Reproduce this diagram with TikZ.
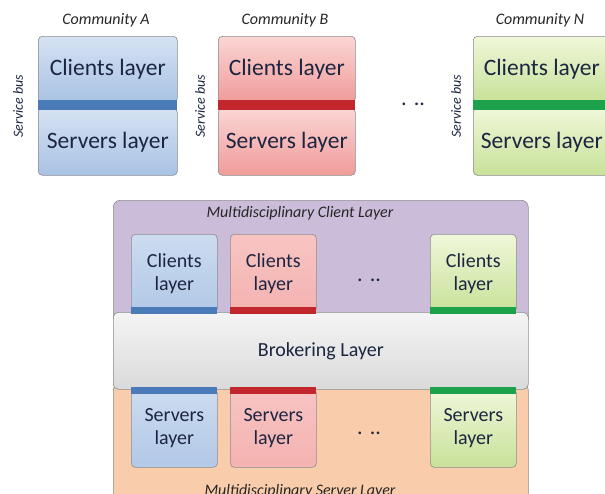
\documentclass[tikz,border=0pt]{standalone}
\usepackage{fontspec}
\setmainfont{Carlito}
\usepackage{xcolor}
\usepackage{tikz}

\definecolor{ink}{HTML}{1C2541}
\definecolor{edge}{HTML}{8C8C8C}
\definecolor{blueTop}{HTML}{D5E2F3}
\definecolor{blueBot}{HTML}{A9C2E4}
\definecolor{blueBar}{HTML}{4A7AB8}
\definecolor{redTop}{HTML}{FAD6D4}
\definecolor{redBot}{HTML}{F09B99}
\definecolor{redBar}{HTML}{C1272D}
\definecolor{greenTop}{HTML}{EFF7D9}
\definecolor{greenBot}{HTML}{C8E199}
\definecolor{greenBar}{HTML}{1DA24B}
\definecolor{purpleFill}{HTML}{CBBDD9}
\definecolor{orangeFill}{HTML}{F9CDAB}
\definecolor{greyTop}{HTML}{F4F4F4}
\definecolor{greyBot}{HTML}{DADADA}

\begin{document}
\begin{tikzpicture}[x=1pt,y=-1pt,
  layerbox/.style={draw=edge, line width=0.6pt, rounded corners=4pt, anchor=north west, inner sep=0pt, text=ink},
  bigbox/.style={layerbox, minimum height=66, font=\fontsize{23.5}{26}\selectfont},
  smallbox/.style={layerbox, minimum width=86, align=center, font=\fontsize{20}{23}\selectfont},
  groupbox/.style={draw=edge, line width=0.6pt, rounded corners=7pt, anchor=north west, inner sep=0pt, minimum width=415},
  busbar/.style={anchor=north west, inner sep=0pt, minimum height=7},
  caption/.style={text=black!85, font=\fontsize{16}{18}\selectfont\itshape},
  busnote/.style={text=ink, rotate=90, font=\fontsize{14}{16}\selectfont\itshape},
  more/.style={text=ink, font=\fontsize{22}{24}\selectfont}]
\useasboundingbox (0,0) rectangle (605,493);
\clip (0,0) rectangle (605,493);

%Community A
\node[bigbox, top color=blueTop, bottom color=blueBot, minimum width=139] (cliA) at (38,36) {Clients layer};
\node[bigbox, top color=blueTop, bottom color=blueBot, minimum width=139, minimum height=67] (srvA) at (38,108) {Servers layer};
\node[busbar, fill=blueBar, minimum width=139, minimum height=10] (busA) at (38,100) {};
%Community B
\node[bigbox, top color=redTop, bottom color=redBot, minimum width=137] (cliB) at (218,36) {Clients layer};
\node[bigbox, top color=redTop, bottom color=redBot, minimum width=137, minimum height=67] (srvB) at (218,108) {Servers layer};
\node[busbar, fill=redBar, minimum width=137, minimum height=10] (busB) at (218,100) {};
%Community N
\node[bigbox, top color=greenTop, bottom color=greenBot, minimum width=137] (cliN) at (473,36) {Clients layer};
\node[bigbox, top color=greenTop, bottom color=greenBot, minimum width=137, minimum height=67] (srvN) at (473,108) {Servers layer};
\node[busbar, fill=greenBar, minimum width=137, minimum height=10] (busN) at (473,100) {};

% Text Node
\node[caption] (titA) at (106,20) {Community A};
\node[caption] (titB) at (285,20) {Community B};
\node[caption] (titN) at (540,20) {Community N};
\node[busnote] (noteA) at (18,106) {Service bus};
\node[busnote] (noteB) at (200,106) {Service bus};
\node[busnote] (noteN) at (456,106) {Service bus};
\node[more] (dotsTop) at (413,104) {.\,\,..};

%Multidisciplinary layers
\node[groupbox, fill=purpleFill, minimum height=125] (mcl) at (113,200) {};
\node[groupbox, fill=orangeFill, minimum height=130] (msl) at (113,383) {};
\node[groupbox, top color=greyTop, bottom color=greyBot, minimum height=77, rounded corners=5pt, text=ink, font=\fontsize{20}{23}\selectfont] (brk) at (113,312) {Brokering Layer};
\node[caption] (titMcl) at (300,213) {Multidisciplinary Client Layer};
\node[caption] (titMsl) at (300,491) {Multidisciplinary Server Layer};

%Clients layers
\node[smallbox, top color=blueTop!80!blueBot, bottom color=blueBot!90, minimum height=78] (mcA) at (131,234) {Clients\\layer};
\node[smallbox, top color=redTop!70!redBot, bottom color=redBot!60!redTop, minimum height=78] (mcB) at (230,234) {Clients\\layer};
\node[smallbox, top color=greenTop, bottom color=greenBot, minimum height=78] (mcN) at (430,234) {Clients\\layer};
\node[busbar, fill=blueBar, minimum width=86] (mbA) at (131,307) {};
\node[busbar, fill=redBar, minimum width=86] (mbB) at (230,307) {};
\node[busbar, fill=greenBar, minimum width=86] (mbN) at (430,307) {};
\node[more] (dotsMid) at (369,280) {.\,\,..};

%Servers layers
\node[smallbox, top color=blueTop!80!blueBot, bottom color=blueBot!90, minimum height=78] (msA) at (131,389) {Servers\\layer};
\node[smallbox, top color=redTop!70!redBot, bottom color=redBot!60!redTop, minimum height=78] (msB) at (230,389) {Servers\\layer};
\node[smallbox, top color=greenTop, bottom color=greenBot, minimum height=78] (msN) at (430,389) {Servers\\layer};
\node[busbar, fill=blueBar, minimum width=86] (sbA) at (131,387) {};
\node[busbar, fill=redBar, minimum width=86] (sbB) at (230,387) {};
\node[busbar, fill=greenBar, minimum width=86] (sbN) at (430,387) {};
\node[more] (dotsLow) at (369,433) {.\,\,..};

\end{tikzpicture}
\end{document}
